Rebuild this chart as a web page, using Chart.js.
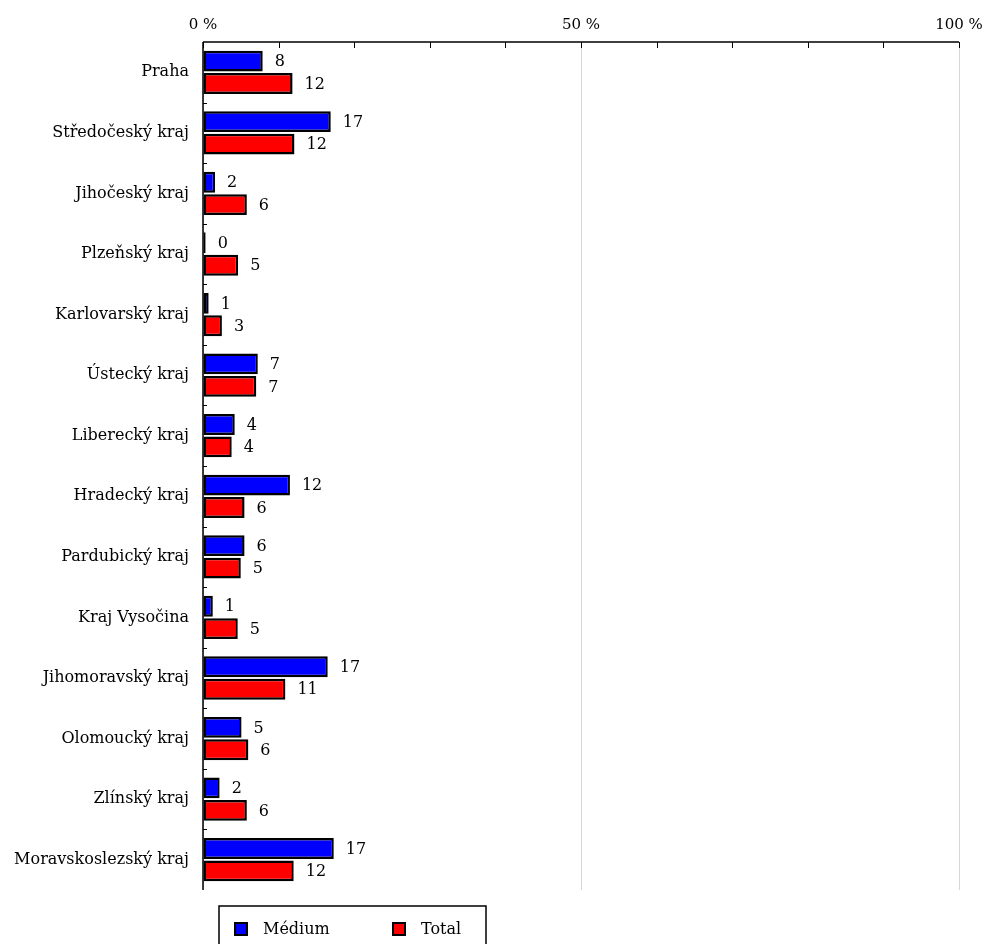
<!DOCTYPE html>
<html>
<head>
<meta charset="utf-8">
<script src="https://cdn.jsdelivr.net/npm/chart.js@4/dist/chart.umd.min.js"></script>
<style>
  html, body { margin: 0; padding: 0; background: #fff; }
  #wrap { width: 983px; height: 944px; position: relative; }
</style>
</head>
<body>
<div id="wrap"><canvas id="c"></canvas></div>
<script>
const categories = ['Praha', 'Středočeský kraj', 'Jihočeský kraj', 'Plzeňský kraj', 'Karlovarský kraj', 'Ústecký kraj', 'Liberecký kraj', 'Hradecký kraj', 'Pardubický kraj', 'Kraj Vysočina', 'Jihomoravský kraj', 'Olomoucký kraj', 'Zlínský kraj', 'Moravskoslezský kraj'];
const mediumValues = [7.9, 16.9, 1.6, 0.35, 0.75, 7.25, 4.2, 11.5, 5.5, 1.3, 16.5, 5.1, 2.2, 17.3];
const totalValues = [11.85, 12.1, 5.8, 4.65, 2.5, 7.05, 3.8, 5.5, 5.0, 4.6, 10.9, 6.0, 5.8, 12.0];
const seriesNames = ['Médium', 'Total'];
const xTickLabels = { 0: '0 %', 50: '50 %', 100: '100 %' };

const FONT = 'DejaVu Serif';
const FS = 16;

const decorPlugin = {
  id: 'decor',
  afterDatasetsDraw(chart) {
    const ctx = chart.ctx;
    const x = chart.scales.x, y = chart.scales.y;
    const a = chart.chartArea;
    ctx.save();
    // axis lines
    ctx.strokeStyle = '#000';
    ctx.lineWidth = 1.5;
    ctx.beginPath();
    ctx.moveTo(a.left, a.top); ctx.lineTo(a.right, a.top);
    ctx.moveTo(a.left, a.top); ctx.lineTo(a.left, a.bottom);
    ctx.stroke();
    // x ticks inward
    ctx.lineWidth = 1;
    ctx.beginPath();
    x.ticks.forEach(t => {
      const px = Math.round(x.getPixelForValue(t.value)) + 0.5;
      ctx.moveTo(px, a.top); ctx.lineTo(px, a.top + 6);
    });
    // y ticks inward at category boundaries
    for (let i = 1; i < categories.length; i++) {
      const py = Math.round((y.getPixelForValue(i - 1) + y.getPixelForValue(i)) / 2) + 0.5;
      ctx.moveTo(a.left, py); ctx.lineTo(a.left + 4, py);
    }
    ctx.stroke();
    // data labels
    ctx.fillStyle = '#000';
    ctx.font = FS + 'px "' + FONT + '"';
    ctx.textBaseline = 'middle';
    ctx.textAlign = 'left';
    chart.data.datasets.forEach((ds, di) => {
      const meta = chart.getDatasetMeta(di);
      meta.data.forEach((bar, i) => {
        ctx.fillText(String(Math.round(ds.data[i])), bar.x + 12, bar.y + 1);
      });
    });
    // legend
    const lx = 219, ly = 906, lw = 267, lh = 50;
    ctx.strokeStyle = '#000';
    ctx.lineWidth = 1.5;
    ctx.strokeRect(lx, ly, lw, lh);
    const items = [{ x: 234, tx: 263 }, { x: 392, tx: 421 }];
    chart.data.datasets.forEach((ds, di) => {
      const it = items[di];
      ctx.fillStyle = ds.backgroundColor;
      ctx.fillRect(it.x, 922, 14, 14);
      ctx.lineWidth = 2;
      ctx.strokeStyle = '#000';
      ctx.strokeRect(it.x + 1, 923, 12, 12);
      ctx.fillStyle = '#000';
      ctx.fillText(ds.label, it.tx, 930);
    });
    ctx.restore();
  }
};

new Chart(document.getElementById('c'), {
  type: 'bar',
  data: {
    labels: categories,
    datasets: [
      { label: seriesNames[0], data: mediumValues, backgroundColor: '#0000ff', borderColor: '#000', borderWidth: 2.5, borderSkipped: false },
      { label: seriesNames[1], data: totalValues, backgroundColor: '#ff0000', borderColor: '#000', borderWidth: 2.5, borderSkipped: false }
    ]
  },
  options: {
    indexAxis: 'y',
    responsive: true,
    maintainAspectRatio: false,
    animation: false,
    categoryPercentage: 0.74,
    barPercentage: 0.93,
    layout: { padding: { left: 0, right: 24, top: 0, bottom: 54 } },
    plugins: { legend: { display: false }, tooltip: { enabled: false } },
    scales: {
      x: {
        position: 'top', min: 0, max: 100,
        afterFit: s => { s.height = 42; s.paddingRight = 0; s.paddingLeft = 0; },
        ticks: {
          stepSize: 10, autoSkip: false, maxRotation: 0, padding: 8,
          color: '#000', font: { family: FONT, size: FS - 1 },
          callback: v => xTickLabels[v] || ''
        },
        grid: {
          drawTicks: false,
          color: c => (c.tick && c.tick.value % 50 === 0) ? '#d6d6d6' : 'rgba(0,0,0,0)',
          lineWidth: 1
        },
        border: { display: false }
      },
      y: {
        afterFit: s => { s.width = 203; },
        ticks: { color: '#000', padding: 14, font: { family: FONT, size: FS } },
        grid: { display: false, drawTicks: false },
        border: { display: false }
      }
    }
  },
  plugins: [decorPlugin]
});
</script>
</body>
</html>
